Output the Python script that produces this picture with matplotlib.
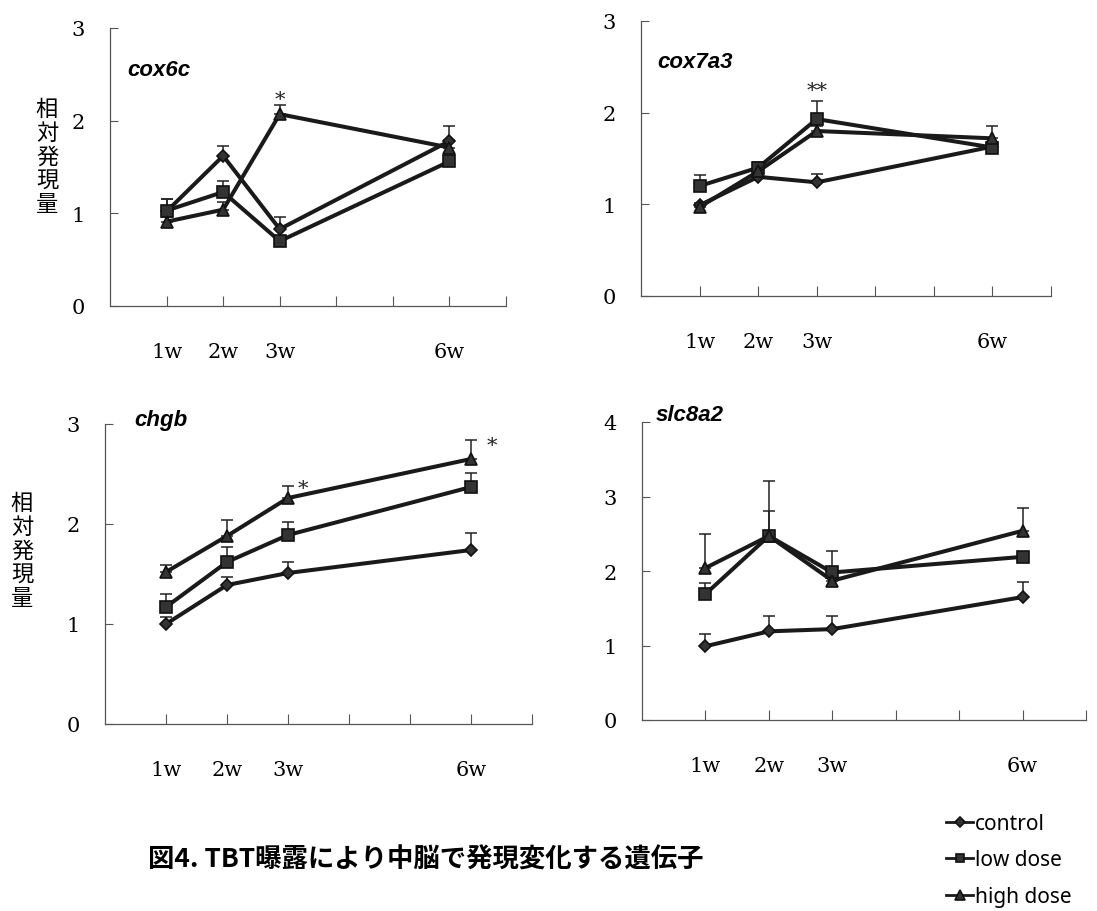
import matplotlib
matplotlib.use('Agg')
import matplotlib.pyplot as plt

plt.rcParams['font.family'] = ['DejaVu Serif']
plt.rcParams['axes.unicode_minus'] = False

W, H = 1097, 912

weeks = [1, 2, 3, 6]
week_labels = ['1w', '2w', '3w', '6w']
series_names = ['control', 'low dose', 'high dose']

# cox6c
cox6c_control = [1.02, 1.62, 0.83, 1.78]
cox6c_control_err = [0.13, 0.11, 0.13, 0.16]
cox6c_low = [1.03, 1.23, 0.70, 1.56]
cox6c_low_err = [0.12, 0.12, 0.03, 0.05]
cox6c_high = [0.91, 1.04, 2.07, 1.71]
cox6c_high_err = [0.05, 0.08, 0.10, 0.08]

# cox7a3
cox7a3_control = [0.99, 1.30, 1.24, 1.63]
cox7a3_control_err = [0.03, 0.04, 0.09, 0.05]
cox7a3_low = [1.20, 1.40, 1.93, 1.62]
cox7a3_low_err = [0.12, 0.06, 0.20, 0.05]
cox7a3_high = [0.97, 1.36, 1.80, 1.72]
cox7a3_high_err = [0.03, 0.05, 0.05, 0.14]

# chgb
chgb_control = [1.00, 1.39, 1.51, 1.74]
chgb_control_err = [0.07, 0.08, 0.11, 0.17]
chgb_low = [1.17, 1.62, 1.89, 2.37]
chgb_low_err = [0.13, 0.15, 0.13, 0.14]
chgb_high = [1.52, 1.88, 2.26, 2.65]
chgb_high_err = [0.07, 0.16, 0.12, 0.19]

# slc8a2
slc8a2_control = [0.99, 1.19, 1.22, 1.65]
slc8a2_control_err = [0.17, 0.21, 0.18, 0.20]
slc8a2_low = [1.69, 2.47, 1.98, 2.19]
slc8a2_low_err = [0.15, 0.34, 0.29, 0.05]
slc8a2_high = [2.04, 2.47, 1.87, 2.54]
slc8a2_high_err = [0.45, 0.74, 0.05, 0.30]

# significance marks: (x, y, text)
cox6c_marks = [(3, 2.23, '*')]
cox7a3_marks = [(3, 2.24, '**')]
chgb_marks = [(3.25, 2.35, '*'), (6.35, 2.78, '*')]
slc8a2_marks = []

markers = ['D', 's', '^']
marker_sizes = [6.5, 8, 9]
line_color = '#1a1a1a'
face_color = '#333333'
cjk = ['Noto Sans CJK JP', 'DejaVu Sans']


def px_rect(left, right, top, bottom):
    return [left / W, 1 - bottom / H, (right - left) / W, (bottom - top) / H]


def draw_panel(ax, gene, series, errs, ymax, marks, gene_xy):
    handles = []
    for vals, err, m, ms in zip(series, errs, markers, marker_sizes):
        ax.errorbar(weeks, vals, yerr=[[0] * len(err), err], fmt='none',
                    ecolor='#222222', elinewidth=1.1, capsize=4, capthick=1.1, zorder=2)
        h, = ax.plot(weeks, vals, color=line_color, lw=2.9, marker=m, markersize=ms,
                     markerfacecolor=face_color, markeredgecolor='#111111',
                     markeredgewidth=1.2, zorder=3)
        handles.append(h)
    for x, y, t in marks:
        ax.text(x, y, t, ha='center', va='center', fontsize=15, color='#222222')

    ax.set_xlim(0, 7)
    ax.set_ylim(0, ymax)
    ax.set_yticks(range(0, ymax + 1))
    ax.set_xticks(range(1, 8))
    ax.set_xticklabels([week_labels[weeks.index(i)] if i in weeks else '' for i in range(1, 8)])
    for s in ['top', 'right']:
        ax.spines[s].set_visible(False)
    for s in ['left', 'bottom']:
        ax.spines[s].set_color('#555555')
        ax.spines[s].set_linewidth(0.9)
    ax.tick_params(axis='x', direction='in', length=7, width=0.8, color='#555555',
                   pad=26, labelsize=15)
    ax.tick_params(axis='y', direction='in', length=6, width=0.8, color='#555555',
                   pad=18, labelsize=15)
    fig.text(gene_xy[0] / W, 1 - gene_xy[1] / H, gene, fontsize=16, fontweight='bold',
             fontstyle='italic', family='Liberation Sans', va='center', ha='left')
    return handles


fig = plt.figure(figsize=(W / 100, H / 100), dpi=100)

ax1 = fig.add_axes(px_rect(110, 506, 29, 307))
ax2 = fig.add_axes(px_rect(641, 1051, 22, 297))
ax3 = fig.add_axes(px_rect(105, 532, 425, 725))
ax4 = fig.add_axes(px_rect(642, 1086, 423, 721))

handles = draw_panel(ax1, 'cox6c', [cox6c_control, cox6c_low, cox6c_high],
                     [cox6c_control_err, cox6c_low_err, cox6c_high_err], 3, cox6c_marks, (127, 70))
draw_panel(ax2, 'cox7a3', [cox7a3_control, cox7a3_low, cox7a3_high],
           [cox7a3_control_err, cox7a3_low_err, cox7a3_high_err], 3, cox7a3_marks, (657, 62))
draw_panel(ax3, 'chgb', [chgb_control, chgb_low, chgb_high],
           [chgb_control_err, chgb_low_err, chgb_high_err], 3, chgb_marks, (134, 421))
draw_panel(ax4, 'slc8a2', [slc8a2_control, slc8a2_low, slc8a2_high],
           [slc8a2_control_err, slc8a2_low_err, slc8a2_high_err], 4, slc8a2_marks, (656, 416))

# stacked vertical y labels
ylab = '\n'.join('相対発現量')
fig.text(47 / W, 1 - 157 / H, ylab, family=cjk, fontsize=16, ha='center', va='center',
         linespacing=1.05)
fig.text(22 / W, 1 - 551 / H, ylab, family=cjk, fontsize=16, ha='center', va='center',
         linespacing=1.05)

fig.text(148 / W, 1 - 860 / H, '図4. TBT曝露により中脳で発現変化する遺伝子', family=cjk,
         fontsize=19, fontweight='bold', ha='left', va='center')

leg = fig.legend(handles, series_names, loc='center left',
                 bbox_to_anchor=(946 / W, 1 - 861 / H), frameon=False,
                 prop={'family': 'Noto Sans', 'size': 15}, handlelength=1.3,
                 handletextpad=0.1, labelspacing=0.75, borderpad=0, borderaxespad=0,
                 markerscale=0.75)
for line in leg.get_lines():
    line.set_linewidth(2)

fig.savefig('out.png', dpi=100)
